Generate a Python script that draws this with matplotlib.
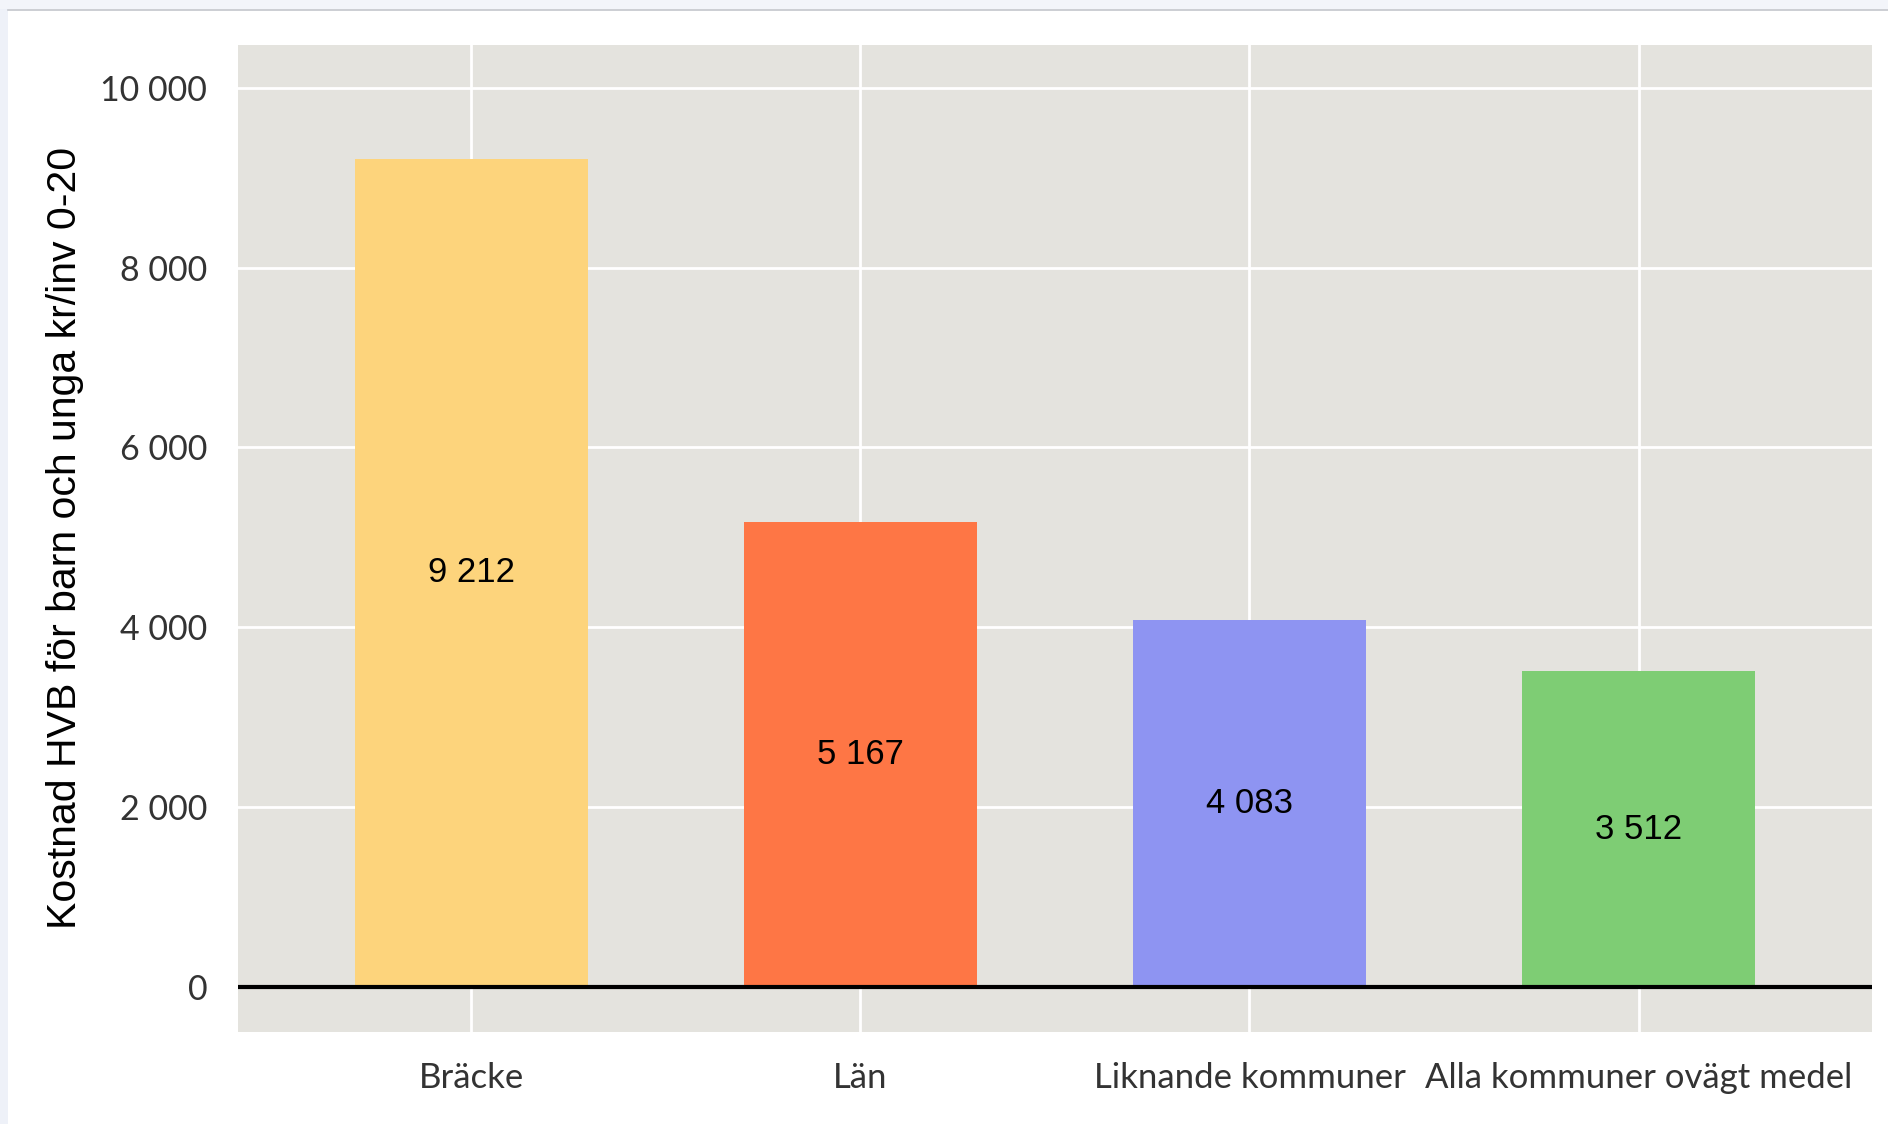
import matplotlib.pyplot as plt
import matplotlib.patches as mpatches
from matplotlib.lines import Line2D

# Data
kategorier = ["Bräcke", "Län", "Liknande kommuner", "Alla kommuner ovägt medel"]
varden = [9212, 5167, 4083, 3512]
etiketter = ["9 212", "5 167", "4 083", "3 512"]
farger = ["#FDD47C", "#FE7645", "#8E94F2", "#7ECD74"]
y_ticks = [0, 2000, 4000, 6000, 8000, 10000]
y_ticklabels = ["0", "2 000", "4 000", "6 000", "8 000", "10 000"]
y_titel = "Kostnad HVB för barn och unga kr/inv 0-20"

fig = plt.figure(figsize=(18.88, 11.24), dpi=100)

# bakgrundsremsor (skärmdumpens kant)
fig.add_artist(mpatches.Rectangle((0, 0), 8 / 1888, 1, transform=fig.transFigure,
                                  color="#EEF1F8", lw=0, zorder=0))
fig.add_artist(mpatches.Rectangle((0, 1 - 9 / 1124), 1, 9 / 1124, transform=fig.transFigure,
                                  color="#F3F5FA", lw=0, zorder=0))
fig.add_artist(Line2D([8 / 1888, 1], [1 - 9.5 / 1124, 1 - 9.5 / 1124], transform=fig.transFigure,
                      color="#C4C6CC", lw=1.2))

ax = fig.add_axes([0.126, 0.0819, 0.8655, 0.8785])
ax.set_facecolor("#E4E3DE")

x = list(range(len(kategorier)))
ax.bar(x, varden, width=0.6, color=farger, zorder=3)
for xi, v, t in zip(x, varden, etiketter):
    ax.text(xi, v / 2, t, ha="center", va="center", fontsize=25,
            family="Liberation Sans", color="#000000", zorder=4)

ax.axhline(0, color="black", lw=3, zorder=5)

ax.set_xlim(-0.6, 3.6)
ax.set_ylim(-500, 10480)
ax.set_xticks(x)
ax.set_xticklabels(kategorier, family="Lato", fontsize=25, color="#333333")
ax.set_yticks(y_ticks)
ax.set_yticklabels(y_ticklabels, family="Lato", fontsize=24.5, color="#333333")
ax.tick_params(length=0)
ax.tick_params(axis="y", pad=22)
ax.tick_params(axis="x", pad=22)
ax.grid(True, color="white", lw=2.0, zorder=1)
ax.set_axisbelow(True)
for s in ax.spines.values():
    s.set_visible(False)

ax.set_ylabel(y_titel, family="Liberation Sans", fontsize=29.5, color="#000000")
ax.yaxis.set_label_coords(-0.094, 0.5)

fig.savefig("out.png", dpi=100)
